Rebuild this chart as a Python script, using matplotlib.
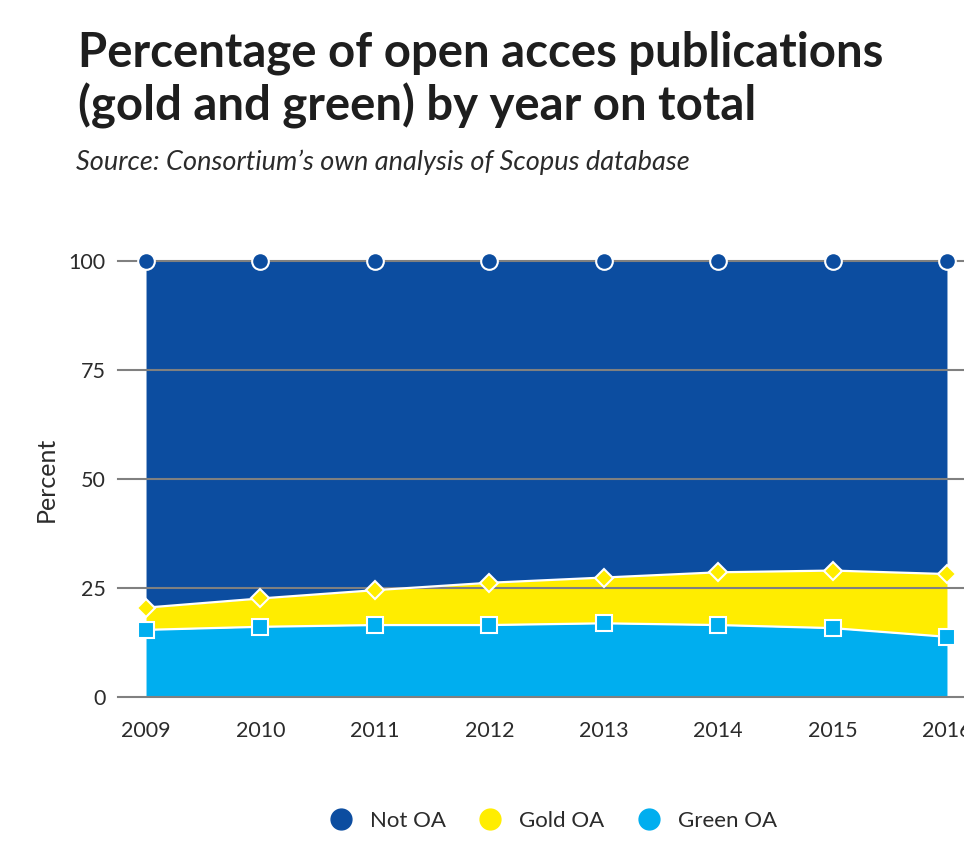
import matplotlib
matplotlib.use("Agg")
import matplotlib.pyplot as plt
import numpy as np
from matplotlib.lines import Line2D

years = [2009, 2010, 2011, 2012, 2013, 2014, 2015, 2016]
green_oa = [15.4, 16.1, 16.5, 16.5, 16.9, 16.5, 15.8, 13.8]
gold_oa = [5.1, 6.5, 8.0, 9.7, 10.5, 12.1, 13.2, 14.4]
not_oa = [100 - g - o for g, o in zip(green_oa, gold_oa)]
y_ticks = [0, 25, 50, 75, 100]

C_NOT = "#0c4da0"
C_GOLD = "#ffed00"
C_GREEN = "#00aeef"
TXT = "#2b2b2b"

plt.rcParams["font.family"] = ["Lato", "DejaVu Sans"]

fig = plt.figure(figsize=(9.64, 8.58), dpi=100)
ax = fig.add_axes([118 / 964, (858 - 697) / 858, (975 - 118) / 964, (697 - 261) / 858])

x = np.array(years)
g = np.array(green_oa)
go = g + np.array(gold_oa)
tot = go + np.array(not_oa)

ax.fill_between(x, 0, g, color=C_GREEN, lw=0, zorder=1)
ax.fill_between(x, g, go, color=C_GOLD, lw=0, zorder=1)
ax.fill_between(x, go, tot, color=C_NOT, lw=0, zorder=1)

for yt in y_ticks:
    ax.axhline(yt, color="#808080", lw=1.5, zorder=2, clip_on=False)

ax.plot(x, g, color="white", lw=1.6, zorder=3)
ax.plot(x, go, color="white", lw=1.6, zorder=3)

ax.plot(x, tot, ls="none", marker="o", ms=12, mfc=C_NOT, mec="white", mew=1.5,
        zorder=5, clip_on=False)
ax.plot(x, go, ls="none", marker="D", ms=9, mfc=C_GOLD, mec="white", mew=1.5,
        zorder=5, clip_on=False)
ax.plot(x, g, ls="none", marker="s", ms=12, mfc=C_GREEN, mec="white", mew=1.5,
        zorder=5, clip_on=False)

ax.set_xlim(2009 - 0.245, 2016 + 0.245)
ax.set_ylim(0, 100)
ax.set_xticks(years)
ax.set_xticklabels([str(y) for y in years])
ax.set_yticks(y_ticks)
ax.tick_params(axis="both", length=0, labelsize=15.5, labelcolor=TXT)
ax.tick_params(axis="x", pad=17)
ax.tick_params(axis="y", pad=9)
for s in ax.spines.values():
    s.set_visible(False)
ax.set_ylabel("Percent", fontsize=18, color=TXT, labelpad=8)

fig.text(78 / 964, 1 - 80 / 858, "Percentage of open acces publications\n(gold and green) by year on total",
         fontsize=34, fontweight="bold", color="#1e1e1e", va="center", ha="left",
         linespacing=1.2)
fig.text(76 / 964, 1 - 162 / 858, "Source: Consortium\u2019s own analysis of Scopus database",
         fontsize=19.5, style="italic", color=TXT, va="center", ha="left")

handles = [Line2D([], [], ls="none", marker="o", ms=15, mfc=c, mec=c)
           for c in (C_NOT, C_GOLD, C_GREEN)]
fig.legend(handles, ["Not OA", "Gold OA", "Green OA"], loc="center",
           bbox_to_anchor=(548 / 964, 1 - 821 / 858), ncol=3, frameon=False,
           fontsize=16, handletextpad=0.3, columnspacing=1.0,
           labelcolor=TXT)

fig.savefig("out.png", dpi=100)
